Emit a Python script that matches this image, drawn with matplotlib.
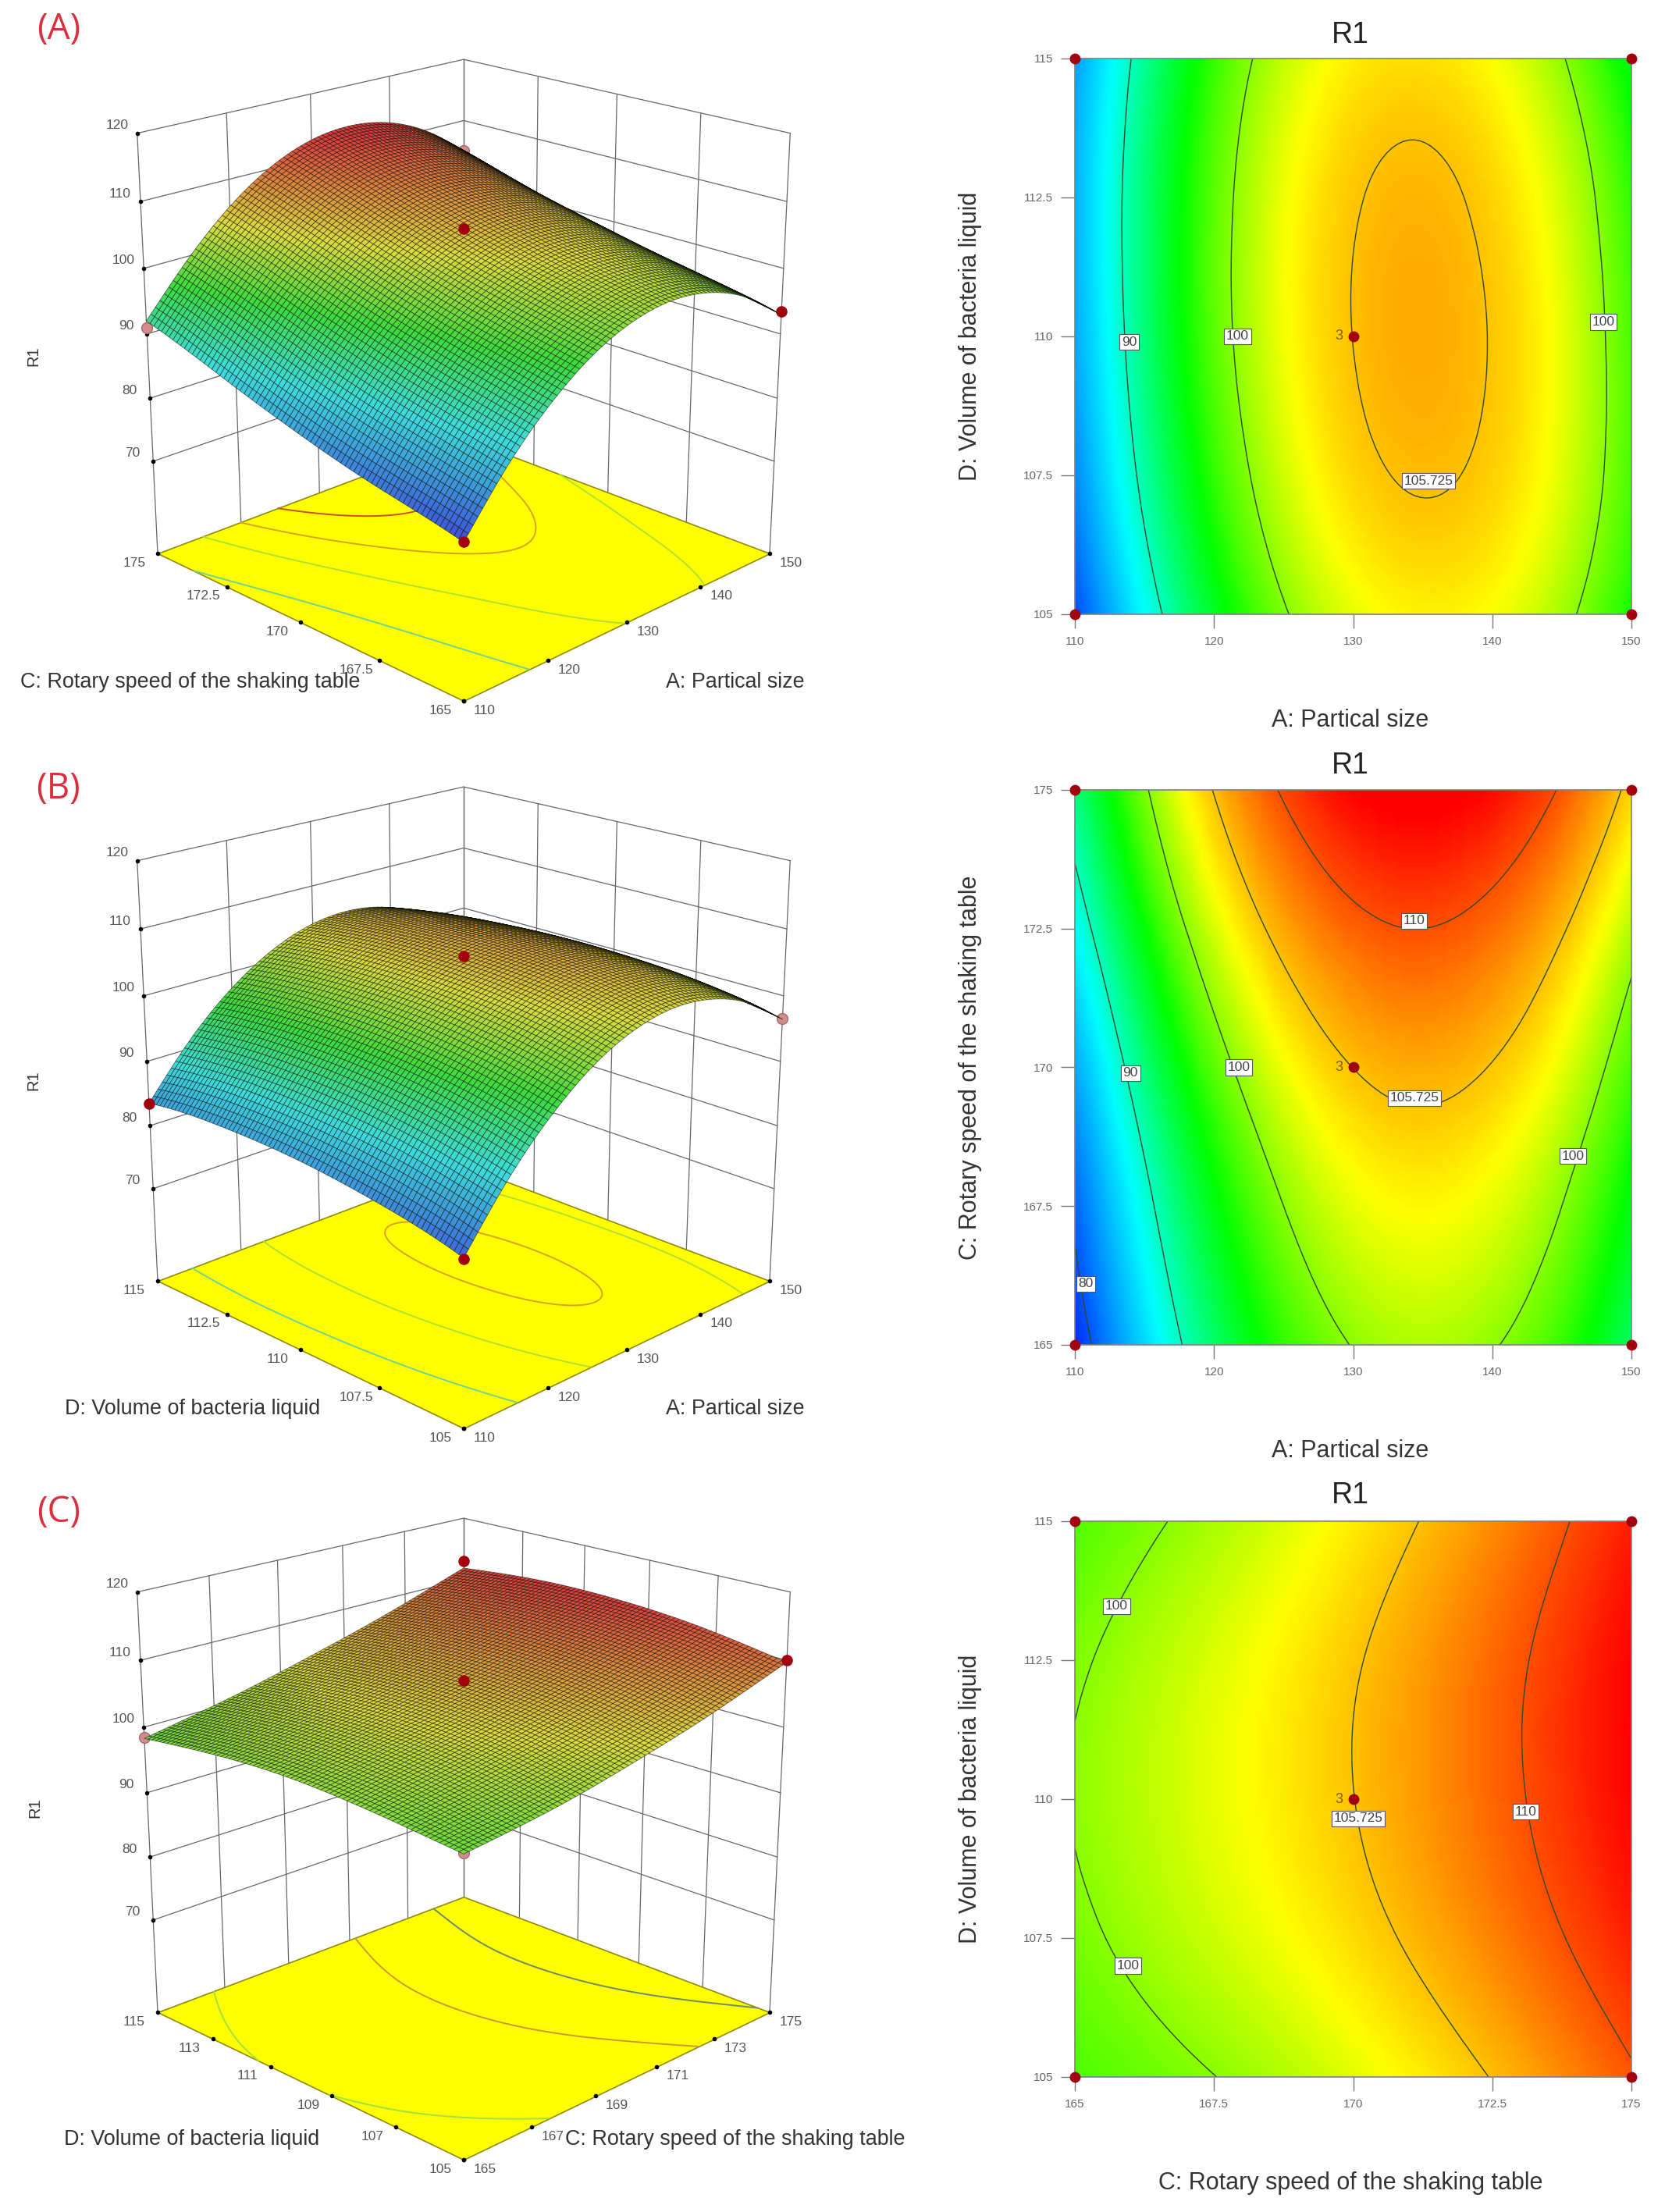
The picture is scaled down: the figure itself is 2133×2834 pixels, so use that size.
#response surface figure: 3d surfaces on the left, contour maps on the right
import numpy as np
import matplotlib
matplotlib.use('Agg')
import matplotlib.pyplot as plt
from matplotlib.colors import LinearSegmentedColormap, Normalize
from matplotlib.tri import Triangulation, CubicTriInterpolator
from mpl_toolkits.mplot3d import proj3d
from mpl_toolkits.mplot3d.art3d import Poly3DCollection

plt.rcParams['font.family'] = ['Liberation Sans', 'DejaVu Sans']

A_levels = [110, 115, 120, 125, 130, 135, 140, 145, 150]
C_levels = [165, 167.5, 170, 172.5, 175]
D_levels = [105, 107.5, 110, 112.5, 115]

R1_AC = [[77.95, 86.25, 92.7, 97.35, 100.1, 101.07, 100.2, 97.5, 92.95],
         [80.73, 88.99, 95.41, 100.0, 102.75, 103.67, 102.75, 100.0, 95.41],
         [84.0, 92.2, 98.6, 103.1, 105.75, 106.6, 105.6, 102.8, 98.1],
         [88.0, 96.05, 102.3, 106.7, 109.25, 110.0, 108.9, 106.0, 101.2],
         [92.0, 99.6, 105.85, 110.3, 112.9, 113.65, 112.6, 109.7, 105.0]]
R1_AD = [[79.6, 88.1, 94.8, 99.7, 102.7, 103.9, 103.25, 100.8, 96.45],
         [82.45, 90.85, 97.35, 102.05, 104.95, 105.95, 105.15, 102.5, 98.05],
         [84.0, 92.2, 98.6, 103.1, 105.75, 106.6, 105.6, 102.8, 98.1],
         [84.4, 92.4, 98.6, 103.0, 105.5, 106.2, 105.05, 102.1, 97.3],
         [83.5, 91.4, 97.45, 101.65, 104.05, 104.6, 103.35, 100.2, 95.25]]
R1_CD = [[98.2, 99.96, 102.6, 105.82, 109.7],
         [99.45, 101.95, 104.73, 108.05, 111.8],
         [100.13, 102.78, 105.69, 109.1, 112.86],
         [99.64, 102.42, 105.48, 108.99, 112.88],
         [98.3, 100.9, 104.09, 107.7, 111.86]]

#tick labels
A_ticks = [110, 120, 130, 140, 150]
C_ticks = [165, 167.5, 170, 172.5, 175]
D_ticks = [105, 107.5, 110, 112.5, 115]
C_ticks_odd = [165, 167, 169, 171, 173, 175]
D_ticks_odd = [105, 107, 109, 111, 113, 115]
R1_ticks = [70, 80, 90, 100, 110, 120]
R1_floor = 55

#design points shown on the 3d plots: x, y, R1
points_A = [(110, 165, 78), (150, 165, 93.5), (130, 170, 106)]
faded_A = [(110, 175, 91), (150, 175, 105)]
points_B = [(110, 105, 79.5), (110, 115, 83.5), (130, 110, 106)]
faded_B = [(150, 105, 96.5)]
points_C = [(175, 105, 110), (175, 115, 113), (170, 110, 107)]
faded_C = [(165, 105, 98.3), (165, 115, 98.5)]

#contour levels
levels_AD = [90, 100, 105.725]
levels_AC = [80, 90, 100, 105.725, 110]
levels_CD = [100, 105.725, 110]

W, H = 2133, 2834
RED = '#a3000f'
PINK = '#cf8d8d'
floor_line = {80: '#58cfa0', 90: '#6fd490', 100: '#b0e030', 105.725: '#d9a21b', 110: '#c8502a'}
floor_line_c = {100: '#a0e040', 105.725: '#c99a30', 110: '#6f8a6a'}

cmap = LinearSegmentedColormap.from_list('dx', [(0, '#0000ff'), (12/37, '#00ffff'), (20/37, '#00ff00'),
                                                (27.5/37, '#ffff00'), (1, '#ff0000')])
norm = Normalize(76, 113)

fig = plt.figure(figsize=(W/100, H/100), dpi=100, facecolor='white')


#smooth a value table with the cubic interpolator of matplotlib
def fine_grid(xs, ys, table, n=101):
    table = np.array(table, dtype=float)
    ii, jj = np.meshgrid(np.arange(len(xs)), np.arange(len(ys)))
    tri = Triangulation(ii.ravel().astype(float), jj.ravel().astype(float))
    interp = CubicTriInterpolator(tri, table.ravel(), kind='min_E')
    fi, fj = np.meshgrid(np.linspace(1e-6, len(xs)-1-1e-6, n), np.linspace(1e-6, len(ys)-1-1e-6, n))
    zz = np.ma.filled(interp(fi, fj), np.nan)
    xx = np.interp(fi, np.arange(len(xs)), xs)
    yy = np.interp(fj, np.arange(len(ys)), ys)
    return xx, yy, zz


def contour_panel(box, xs, ys, table, xticks, yticks, levels, labels, xlabel, ylabel, title_y, xlabel_y):
    x0, y0, x1, y1 = box
    ax = fig.add_axes([x0/W, 1-y1/H, (x1-x0)/W, (y1-y0)/H])
    xx, yy, zz = fine_grid(xs, ys, table)
    ax.pcolormesh(xx, yy, zz, cmap=cmap, norm=norm, shading='gouraud')
    ax.contour(xx, yy, zz, levels=levels, colors='#2f4a2a', linewidths=1.0)
    for lx, ly, s in labels:
        ax.text(lx, ly, s, fontsize=12.5, color='#444444', ha='center', va='center', zorder=6,
                bbox=dict(boxstyle='square,pad=0.15', fc='white', ec='#555555', lw=0.8))
    px = [xs[0], xs[-1], xs[0], xs[-1], xticks[2]]
    py = [ys[0], ys[0], ys[-1], ys[-1], yticks[2]]
    ax.plot(px, py, 'o', color=RED, ms=10, clip_on=False, zorder=7, mec='none')
    ax.annotate('3', (xticks[2], yticks[2]), xytext=(-13, 0), textcoords='offset points', fontsize=13,
                color='#7a5a10', ha='center', va='center', zorder=7)
    ax.set_xlim(xs[0], xs[-1])
    ax.set_ylim(ys[0], ys[-1])
    ax.set_xticks(xticks, [str(t) for t in xticks])
    ax.set_yticks(yticks, [str(t) for t in yticks])
    ax.tick_params(length=13, width=1, color='#777777', labelcolor='#666666', labelsize=11, pad=7)
    for s in ax.spines.values():
        s.set_color('#808080')
        s.set_linewidth(1.2)
    fig.text(1730/W, 1-title_y/H, 'R1', fontsize=27, color='#222222', ha='center', va='center')
    fig.text(1730/W, 1-xlabel_y/H, xlabel, fontsize=22, color='#333333', ha='center', va='center')
    fig.text(1243/W, 1-(y0+y1)/2/H, ylabel, fontsize=22, color='#333333', ha='center', va='center', rotation=90)


def to_px(ax, x, y, z):
    ax.apply_aspect()
    x2, y2, _ = proj3d.proj_transform(x, y, z, ax.get_proj())
    return ax.transData.transform((x2, y2))


#shift and scale the 3d axes so the floor lands on the given pixels
def place_box(ax, xr, yr, front_x, front_y, width):
    size = 1000.0
    ax.set_position([0.1, 0.1, size/W, size/H])
    left = to_px(ax, xr[0], yr[1], R1_floor)
    right = to_px(ax, xr[1], yr[0], R1_floor)
    size = size*width/(right[0]-left[0])
    ax.set_position([0.1, 0.1, size/W, size/H])
    f = to_px(ax, xr[0], yr[0], R1_floor)
    ax.set_position([0.1+(front_x-f[0])/W, 0.1+(H-front_y-f[1])/H, size/W, size/H])


def tick_text(ax, x, y, z, off_x, off_y, s):
    p = to_px(ax, x, y, z)
    fig.text((p[0]+off_x)/W, (p[1]+off_y)/H, str(s), fontsize=12.5, color='#555555', ha='center', va='center')


def surface_panel(xs, ys, table, xticks, yticks, points, faded, levels, line_colors, front_y):
    ax = fig.add_axes([0.1, 0.1, 0.4, 0.4], projection='3d', computed_zorder=False)
    ax.set_proj_type('persp', focal_length=0.58)
    ax.view_init(elev=20, azim=-135)
    ax.set_box_aspect((1, 1, 1.0))
    ax.set_axis_off()
    ax.patch.set_visible(False)
    xr = (xs[0], xs[-1])
    yr = (ys[0], ys[-1])
    ax.set_xlim(*xr)
    ax.set_ylim(*yr)
    ax.set_zlim(R1_floor, R1_ticks[-1])
    wall = dict(color='#666666', lw=0.9, zorder=1)

    #back walls
    for z in R1_ticks:
        ax.plot([xr[0], xr[1], xr[1]], [yr[1], yr[1], yr[0]], [z, z, z], **wall)
    for x in xticks:
        ax.plot([x, x], [yr[1], yr[1]], [R1_floor, R1_ticks[-1]], **wall)
    for y in yticks:
        ax.plot([xr[1], xr[1]], [y, y], [R1_floor, R1_ticks[-1]], **wall)

    #floor with projected contours
    floor = Poly3DCollection([[(xr[0], yr[0], R1_floor), (xr[1], yr[0], R1_floor),
                               (xr[1], yr[1], R1_floor), (xr[0], yr[1], R1_floor)]],
                             facecolors='#ffff00', edgecolors='#8f8a10', linewidths=1.2, zorder=2)
    ax.add_collection3d(floor, autolim=False)
    xx, yy, zz = fine_grid(xs, ys, table)
    ax.contour(xx, yy, zz, levels=levels, offset=R1_floor, zdir='z',
               colors=[line_colors[v] for v in levels], linewidths=1.4, zorder=3)

    #points hidden behind the surface go first
    for x, y, z in faded:
        ax.plot([x], [y], [z], 'o', color=PINK, mec='#a86a6a', ms=10, zorder=4)

    #surface
    xs2, ys2, zs2 = fine_grid(xs, ys, table, n=76)
    face = cmap(norm(zs2))
    face[..., :3] = face[..., :3]*0.62+0.24
    surf = ax.plot_surface(xs2, ys2, zs2, facecolors=face, rstride=1, cstride=1, shade=False,
                           linewidth=0.6, zorder=5)
    surf.set_edgecolor((0, 0, 0, 0.55))

    for x, y, z in points:
        ax.plot([x], [y], [z], 'o', color=RED, mec='none', ms=10.5, zorder=6)

    #tick dots
    ax.plot([xr[0]]*len(R1_ticks), [yr[1]]*len(R1_ticks), R1_ticks, 'o', color='black', ms=3, zorder=2)
    ax.plot(xticks, [yr[0]]*len(xticks), [R1_floor]*len(xticks), 'o', color='black', ms=3, zorder=4)
    ax.plot([xr[0]]*len(yticks), yticks, [R1_floor]*len(yticks), 'o', color='black', ms=3, zorder=4)

    place_box(ax, xr, yr, 594, front_y, 784)

    #tick labels sit a fixed pixel offset away from their dots
    for z in R1_ticks:
        tick_text(ax, xr[0], yr[1], z, -26, 10, z)
    for x in xticks:
        tick_text(ax, x, yr[0], R1_floor, 27, -12, x)
    for y in yticks:
        tick_text(ax, xr[0], y, R1_floor, -30, -12, y)
    return ax


def side_text(x, y, s, size=19.4, rot=0):
    fig.text(x/W, 1-y/H, s, fontsize=size, color='#333333', ha='center', va='center', rotation=rot)


#left column
surface_panel(A_levels, C_levels, R1_AC, A_ticks, C_ticks, points_A, faded_A, levels_AC[1:], floor_line, 898)
surface_panel(A_levels, D_levels, R1_AD, A_ticks, D_ticks, points_B, faded_B, levels_AD, floor_line, 1830)
surface_panel(C_levels, D_levels, R1_CD, C_ticks_odd, D_ticks_odd, points_C, faded_C, levels_CD, floor_line_c, 2767)

side_text(43, 456, 'R1', 14.5, 90)
side_text(43, 1384, 'R1', 14.5, 90)
side_text(45, 2316, 'R1', 14.5, 90)
side_text(244, 874, 'C: Rotary speed of the shaking table')
side_text(942, 874, 'A: Partical size')
side_text(247, 1805, 'D: Volume of bacteria liquid')
side_text(942, 1805, 'A: Partical size')
side_text(246, 2741, 'D: Volume of bacteria liquid')
side_text(942, 2741, 'C: Rotary speed of the shaking table')

for y, s in [(38, '(A)'), (1011, '(B)'), (1938, '(C)')]:
    fig.text(75/W, 1-y/H, s, fontsize=33, color='#d9303f', ha='center', va='center',
             family=['Open Sans', 'DejaVu Sans'])

#right column
contour_panel((1377, 75, 2090, 787), A_levels, D_levels, R1_AD, A_ticks, D_ticks, levels_AD,
              [(113.9, 109.9, '90'), (121.7, 110, '100'), (148, 110.26, '100'), (135.4, 107.4, '105.725')],
              'A: Partical size', 'D: Volume of bacteria liquid', 45, 923)
contour_panel((1377, 1012, 2090, 1723), A_levels, C_levels, R1_AC, A_ticks, C_ticks, levels_AC,
              [(134.4, 172.64, '110'), (134.4, 169.45, '105.725'), (121.8, 170, '100'), (114, 169.9, '90'),
               (145.8, 168.4, '100'), (110.8, 166.1, '80')],
              'A: Partical size', 'C: Rotary speed of the shaking table', 981, 1859)
contour_panel((1377, 1949, 2090, 2661), C_levels, D_levels, R1_CD, C_ticks, D_ticks, levels_CD,
              [(165.75, 113.47, '100'), (165.95, 107, '100'), (170.09, 109.65, '105.725'), (173.1, 109.77, '110')],
              'C: Rotary speed of the shaking table', 'D: Volume of bacteria liquid', 1916, 2797)

fig.savefig('out.png', dpi=100, facecolor='white')
